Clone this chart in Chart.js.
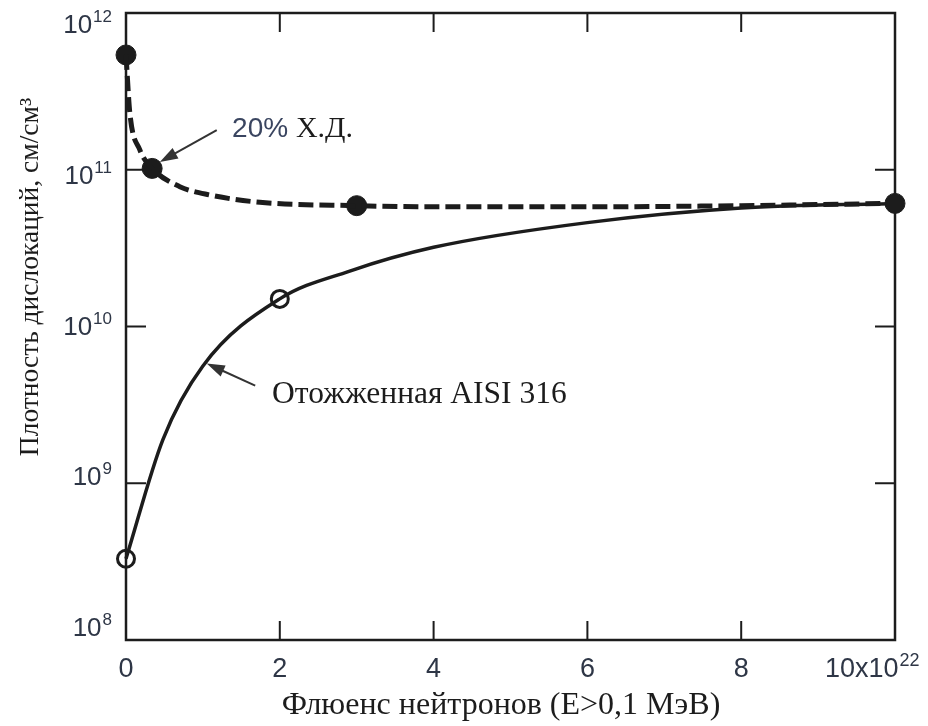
<!DOCTYPE html>
<html>
<head>
<meta charset="utf-8">
<script src="https://cdn.jsdelivr.net/npm/chart.js@4"></script>
<style>
  html, body { margin: 0; padding: 0; background: #fff; }
  #wrap { width: 928px; height: 726px; }
</style>
</head>
<body>
<div id="wrap"><canvas id="chart" width="928" height="726"></canvas></div>
<script>
// Dislocation density vs neutron fluence, cold-worked and annealed AISI 316
(function () {
  'use strict';

  // 20% cold-worked: smooth curve readings and measured points
  const coldX = [0, 0.05, 0.18, 0.34, 0.7, 1.09, 1.74, 3, 4, 6, 8, 10];
  const coldY = [5.4e11, 2.3e11, 1.34e11, 1.02e11, 7.8e10, 6.9e10, 6.2e10, 5.9e10, 5.8e10, 5.8e10, 5.9e10, 6.1e10];
  const coldPtX = [0, 0.34, 3, 10];
  const coldPtY = [5.4e11, 1.02e11, 5.9e10, 6.1e10];

  // annealed: smooth curve readings and measured points
  const annealX = [0, 0.48, 1.0, 2, 2.9, 4, 6, 8, 10];
  const annealY = [3.3e8, 1.9e9, 5.6e9, 1.5e10, 2.25e10, 3.2e10, 4.6e10, 5.7e10, 6.1e10];
  const annealPtX = [0, 2];
  const annealPtY = [3.3e8, 1.5e10];

  const xTicks = [0, 2, 4, 6, 8, 10];
  const yExps = [8, 9, 10, 11, 12];

  const INK = '#1c1c1c';
  const TICK_TXT = '#2e3646';
  const SANS = "'Liberation Sans', Arial, sans-serif";
  const SERIF = "'Liberation Serif', 'Times New Roman', serif";

  function pts(xs, ys) { return xs.map(function (x, i) { return { x: x, y: ys[i] }; }); }

  function arrow(ctx, x1, y1, x2, y2) {
    const a = Math.atan2(y2 - y1, x2 - x1);
    const len = 18, half = 6;
    ctx.beginPath();
    ctx.moveTo(x1, y1);
    ctx.lineTo(x2 - Math.cos(a) * len * 0.8, y2 - Math.sin(a) * len * 0.8);
    ctx.stroke();
    ctx.beginPath();
    ctx.moveTo(x2, y2);
    ctx.lineTo(x2 - Math.cos(a) * len - Math.sin(a) * half, y2 - Math.sin(a) * len + Math.cos(a) * half);
    ctx.lineTo(x2 - Math.cos(a) * len + Math.sin(a) * half, y2 - Math.sin(a) * len - Math.cos(a) * half);
    ctx.closePath();
    ctx.fill();
  }

  // base text with a superscript tail
  function powLabel(ctx, base, sup, x, y, size, supSize, align) {
    ctx.font = size + 'px ' + SANS;
    const wb = ctx.measureText(base).width;
    ctx.font = supSize + 'px ' + SANS;
    const ws = ctx.measureText(sup).width;
    const left = align === 'right' ? x - wb - ws : x;
    ctx.textAlign = 'left';
    ctx.font = size + 'px ' + SANS;
    ctx.fillText(base, left, y);
    ctx.font = supSize + 'px ' + SANS;
    ctx.fillText(sup, left + wb + 1, y - size * 0.42);
  }

  const frame = {
    id: 'frame',
    afterDraw: function (chart) {
      const ctx = chart.ctx;
      const a = chart.chartArea;
      const xs = chart.scales.x, ys = chart.scales.y;
      ctx.save();

      // box and inward ticks
      ctx.strokeStyle = INK;
      ctx.lineWidth = 2.5;
      ctx.strokeRect(a.left, a.top, a.right - a.left, a.bottom - a.top);
      ctx.lineWidth = 2;
      ctx.beginPath();
      xTicks.slice(1, -1).forEach(function (v) {
        const px = xs.getPixelForValue(v);
        ctx.moveTo(px, a.bottom); ctx.lineTo(px, a.bottom - 19);
        ctx.moveTo(px, a.top); ctx.lineTo(px, a.top + 19);
      });
      yExps.slice(1, -1).forEach(function (e) {
        const py = ys.getPixelForValue(Math.pow(10, e));
        ctx.moveTo(a.left, py); ctx.lineTo(a.left + 20, py);
        ctx.moveTo(a.right, py); ctx.lineTo(a.right - 20, py);
      });
      ctx.stroke();

      // tick labels
      ctx.fillStyle = TICK_TXT;
      ctx.textBaseline = 'alphabetic';
      xTicks.forEach(function (v) {
        const px = xs.getPixelForValue(v);
        if (v === 10) {
          powLabel(ctx, '10x10', '22', px - 70, a.bottom + 37, 27, 18, 'left');
        } else {
          ctx.font = '27px ' + SANS;
          ctx.textAlign = 'center';
          ctx.fillText(String(v), px, a.bottom + 37);
        }
      });
      yExps.forEach(function (e) {
        const py = ys.getPixelForValue(Math.pow(10, e));
        const y = a.top + 20 + (py - a.top) * 0.962;
        powLabel(ctx, '10', String(e), 111, y, 26, 17, 'right');
      });

      // axis titles
      ctx.fillStyle = INK;
      ctx.font = '32px ' + SERIF;
      ctx.textAlign = 'center';
      ctx.fillText('Флюенс нейтронов (Е>0,1 МэВ)', 501, 714);
      ctx.save();
      ctx.translate(38, 277);
      ctx.rotate(-Math.PI / 2);
      ctx.font = '27.5px ' + SERIF;
      ctx.fillText('Плотность дислокаций, см/см³', 0, 0);
      ctx.restore();

      // curve labels with pointers
      ctx.strokeStyle = '#333';
      ctx.fillStyle = '#333';
      ctx.lineWidth = 2;
      arrow(ctx, xs.getPixelForValue(1.18), ys.getPixelForValue(1.79e11),
        xs.getPixelForValue(0.44), ys.getPixelForValue(1.12e11));
      arrow(ctx, xs.getPixelForValue(1.68), ys.getPixelForValue(4.2e9),
        xs.getPixelForValue(1.05), ys.getPixelForValue(5.8e9));

      ctx.textAlign = 'left';
      const tx = xs.getPixelForValue(1.38), ty = ys.getPixelForValue(1.62e11);
      ctx.font = '28px ' + SANS;
      ctx.fillStyle = '#3a4560';
      ctx.fillText('20%', tx, ty);
      const w = ctx.measureText('20% ').width;
      ctx.font = '30px ' + SERIF;
      ctx.fillStyle = INK;
      ctx.fillText('Х.Д.', tx + w, ty);

      ctx.font = '31.5px ' + SERIF;
      ctx.fillText('Отожженная AISI 316', xs.getPixelForValue(1.9), ys.getPixelForValue(3.25e9));
      ctx.restore();
    }
  };

  new Chart(document.getElementById('chart'), {
    type: 'line',
    data: {
      datasets: [
        {
          data: pts(coldX, coldY),
          borderColor: INK,
          borderWidth: 5,
          borderDash: [15, 6],
          cubicInterpolationMode: 'monotone',
          pointRadius: 0,
          clip: false,
        },
        {
          data: pts(annealX, annealY),
          borderColor: INK,
          borderWidth: 3.5,
          cubicInterpolationMode: 'monotone',
          pointRadius: 0,
          clip: false,
        },
        {
          data: pts(coldPtX, coldPtY),
          showLine: false,
          pointRadius: 10,
          pointBackgroundColor: INK,
          pointBorderColor: INK,
          pointBorderWidth: 1,
          clip: false,
        },
        {
          data: pts(annealPtX, annealPtY),
          showLine: false,
          pointRadius: 8.5,
          pointBackgroundColor: '#fff',
          pointBorderColor: INK,
          pointBorderWidth: 3,
          clip: false,
        },
      ],
    },
    options: {
      responsive: false,
      animation: false,
      events: [],
      layout: { padding: { left: 126, right: 33, top: 13, bottom: 86 } },
      plugins: { legend: { display: false }, tooltip: { enabled: false } },
      scales: {
        x: {
          type: 'linear', min: 0, max: 10,
          ticks: { display: false },
          grid: { display: false, drawTicks: false },
          border: { display: false },
        },
        y: {
          type: 'logarithmic', min: 1e8, max: 1e12,
          ticks: { display: false },
          grid: { display: false, drawTicks: false },
          border: { display: false },
        },
      },
    },
    plugins: [frame],
  });
})();
</script>
</body>
</html>
